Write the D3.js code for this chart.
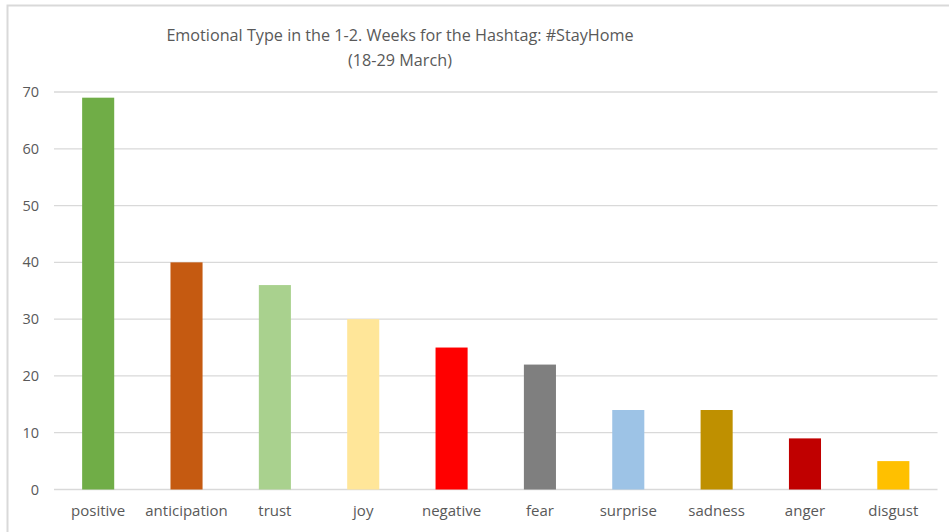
<!DOCTYPE html>
<html>
<head>
<meta charset="utf-8">
<script src="https://cdn.jsdelivr.net/npm/d3@7"></script>
<style>
  html, body { margin: 0; padding: 0; background: #fff; }
  svg { display: block; }
  text { font-family: "Open Sans", "Noto Sans", sans-serif; fill: #595959; }
</style>
</head>
<body>
<svg id="chart" width="949" height="532"></svg>
<script>
// Emotion categories and tweet counts
const categories = ["positive", "anticipation", "trust", "joy", "negative", "fear", "surprise", "sadness", "anger", "disgust"];
const counts = [69, 40, 36, 30, 25, 22, 14, 14, 9, 5];
const barColors = ["#70ad47", "#c55a11", "#a9d18e", "#ffe699", "#ff0000", "#7f7f7f", "#9dc3e6", "#bf9000", "#c00000", "#ffc000"];
const yTicks = [0, 10, 20, 30, 40, 50, 60, 70];
const titleLines = ["Emotional Type in the 1-2. Weeks for the Hashtag: #StayHome", "(18-29 March)"];

const svg = d3.select("#chart");

// outer chart frame
svg.append("rect")
  .attr("x", 7.5).attr("y", 5.5)
  .attr("width", 960).attr("height", 560)
  .attr("fill", "none").attr("stroke", "#d9d9d9").attr("stroke-width", 2);

const plot = { left: 54, right: 937.5, top: 92, bottom: 489.5 };

const x = d3.scaleBand()
  .domain(categories)
  .range([plot.left, plot.right])
  .paddingInner(0.637)
  .paddingOuter(0.3185);

const y = d3.scaleLinear()
  .domain([0, 70])
  .range([plot.bottom, plot.top]);

// horizontal gridlines
svg.append("g")
  .selectAll("line")
  .data(yTicks)
  .join("line")
  .attr("x1", plot.left).attr("x2", plot.right)
  .attr("y1", d => y(d)).attr("y2", d => y(d))
  .attr("stroke", "#d9d9d9").attr("stroke-width", 1.3);

// y-axis tick labels
const yAxis = d3.axisLeft(y).tickValues(yTicks).tickSize(0).tickPadding(0);
const yg = svg.append("g").attr("transform", "translate(39,0)").call(yAxis);
yg.select(".domain").remove();
yg.selectAll("text").attr("font-size", 14.5).style("font-family", "\"Open Sans\", sans-serif").attr("fill", "#595959");

// bars
svg.append("g")
  .selectAll("rect")
  .data(categories)
  .join("rect")
  .attr("x", d => x(d))
  .attr("width", x.bandwidth())
  .attr("y", (d, i) => y(counts[i]))
  .attr("height", (d, i) => y(0) - y(counts[i]))
  .attr("fill", (d, i) => barColors[i]);

// category labels
const xAxis = d3.axisBottom(x).tickSize(0).tickPadding(0);
const xg = svg.append("g").attr("transform", `translate(0,${plot.bottom + 16})`).call(xAxis);
xg.select(".domain").remove();
xg.selectAll("text").attr("font-size", 15).style("font-family", "\"Open Sans\", sans-serif").attr("fill", "#595959");

// title
svg.append("g")
  .selectAll("text")
  .data(titleLines)
  .join("text")
  .attr("x", 400)
  .attr("y", (d, i) => 41 + i * 25)
  .attr("text-anchor", "middle")
  .attr("font-size", 16.2)
  .text(d => d);
</script>
</body>
</html>
